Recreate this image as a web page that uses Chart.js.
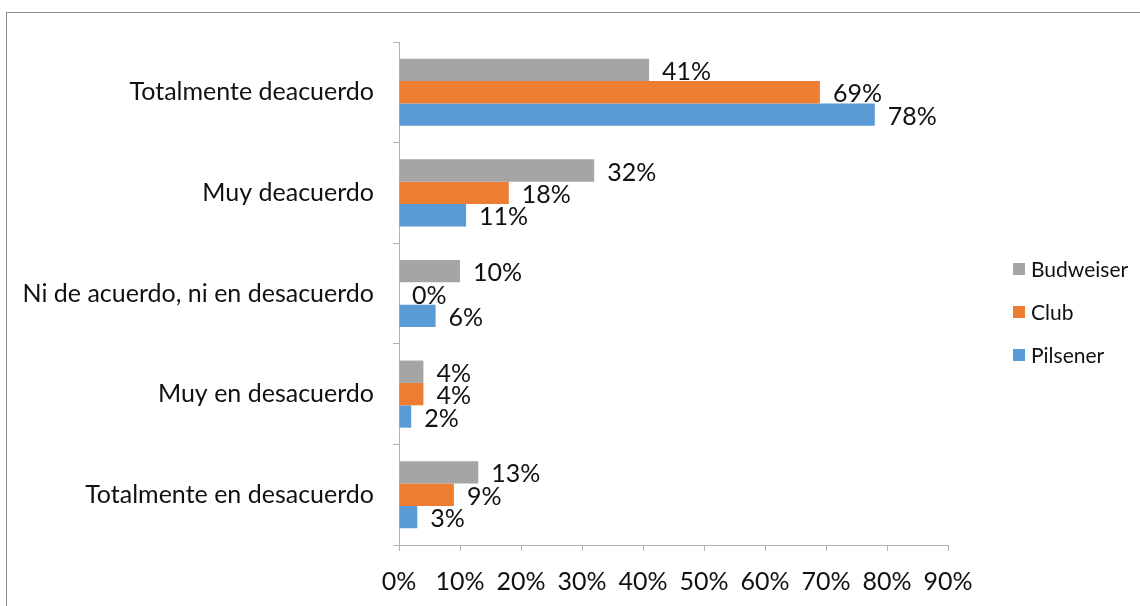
<!DOCTYPE html>
<html>
<head>
<meta charset="utf-8">
<script src="https://cdn.jsdelivr.net/npm/chart.js@4/dist/chart.umd.min.js"></script>
<style>
	html, body { margin: 0; padding: 0; background: #fff; overflow: hidden; }
	#frame {
		position: absolute; left: 6px; top: 12px;
		width: 1200px; height: 700px;
		border: 1px solid #8c8c8c;
	}
	#chart { position: absolute; left: 0; top: 0; }
</style>
</head>
<body>
<div id="frame"></div>
<canvas id="chart" width="1140" height="606"></canvas>
<script>
const categories = [
	"Totalmente deacuerdo",
	"Muy deacuerdo",
	"Ni de acuerdo, ni en desacuerdo",
	"Muy en desacuerdo",
	"Totalmente en desacuerdo",
];
const budweiser = [41, 32, 10, 4, 13];
const club = [69, 18, 0, 4, 9];
const pilsener = [78, 11, 6, 2, 3];
const xTicks = [0, 10, 20, 30, 40, 50, 60, 70, 80, 90];

const FONT = "Lato, 'Open Sans', sans-serif";
const axisColor = "#b4b4b4";

// value labels to the right of each bar
const barLabels = {
	id: "barLabels",
	afterDatasetsDraw(chart) {
		const ctx = chart.ctx;
		ctx.save();
		ctx.font = `25px ${FONT}`;
		ctx.fillStyle = "#111";
		ctx.textAlign = "left";
		ctx.textBaseline = "middle";
		chart.data.datasets.forEach((ds, i) => {
			const meta = chart.getDatasetMeta(i);
			meta.data.forEach((bar, j) => {
				ctx.fillText(`${ds.data[j]}%`, bar.x + 13, bar.y + 2);
			});
		});
		ctx.restore();
	},
};

// legend drawn at the right side, like the original
const sideLegend = {
	id: "sideLegend",
	afterDraw(chart) {
		const ctx = chart.ctx;
		ctx.save();
		ctx.font = `21px ${FONT}`;
		ctx.textAlign = "left";
		ctx.textBaseline = "middle";
		chart.data.datasets.forEach((ds, i) => {
			const y = 269 + i * 43;
			ctx.fillStyle = ds.backgroundColor;
			ctx.fillRect(1013, y - 6, 12, 12);
			ctx.fillStyle = "#111";
			ctx.fillText(ds.label, 1031, y + 1);
		});
		ctx.restore();
	},
};

new Chart(document.getElementById("chart"), {
	type: "bar",
	data: {
		labels: categories,
		datasets: [
			{ label: "Budweiser", data: budweiser, backgroundColor: "#a5a5a5" },
			{ label: "Club", data: club, backgroundColor: "#ed7d31" },
			{ label: "Pilsener", data: pilsener, backgroundColor: "#5b9bd5" },
		],
	},
	options: {
		indexAxis: "y",
		responsive: false,
		animation: false,
		devicePixelRatio: 1,
		datasets: {
			bar: { categoryPercentage: 0.667, barPercentage: 1.0 },
		},
		layout: {
			padding: { top: 42, right: 192, bottom: 0, left: 0 },
		},
		plugins: {
			legend: { display: false },
			tooltip: { enabled: false },
		},
		scales: {
			x: {
				min: 0,
				max: 90,
				afterBuildTicks: (scale) => {
					scale.ticks = xTicks.map((v) => ({ value: v }));
				},
				afterFit: (scale) => {
					scale.height = 61;
				},
				ticks: {
					callback: (v) => `${v}%`,
					color: "#111",
					padding: 16,
					font: { family: FONT, size: 25 },
					maxRotation: 0,
					autoSkip: false,
				},
				grid: {
					drawOnChartArea: false,
					tickLength: 6,
					color: axisColor,
				},
				border: { color: axisColor },
			},
			y: {
				afterFit: (scale) => {
					scale.width = 399;
				},
				ticks: {
					color: "#111",
					padding: 19,
					font: { family: FONT, size: 25 },
				},
				grid: {
					drawOnChartArea: false,
					tickLength: 6,
					color: axisColor,
				},
				border: { color: axisColor },
			},
		},
	},
	plugins: [barLabels, sideLegend],
});
</script>
</body>
</html>
